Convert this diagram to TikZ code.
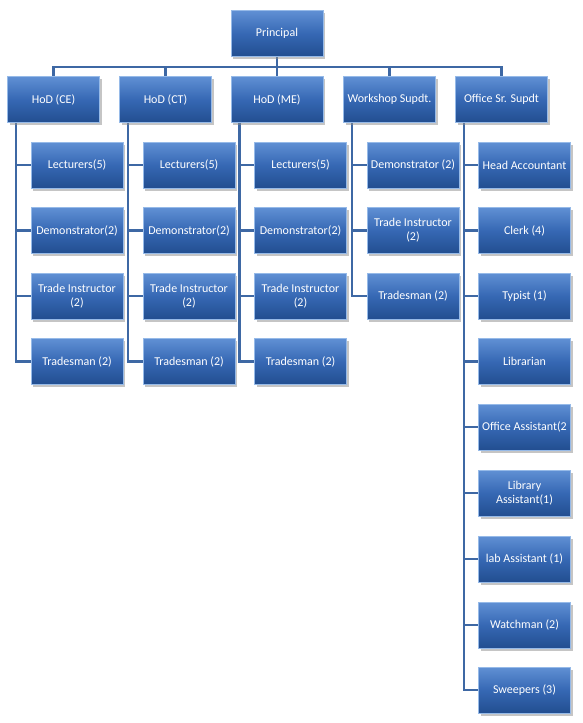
\documentclass[tikz,border=0pt]{standalone}
\usepackage{fontspec}
\setmainfont{Carlito}
\usetikzlibrary{shadows,backgrounds}
\definecolor{boxtop}{RGB}{96,144,212}
\definecolor{boxmid}{RGB}{54,104,180}
\definecolor{boxbot}{RGB}{34,78,144}
\definecolor{boxedge}{RGB}{150,186,232}
\definecolor{linecol}{RGB}{62,104,164}
\tikzset{
  orgbox/.style={rectangle, minimum width=92pt, minimum height=46pt, inner sep=0pt,
    align=center, text=white, font=\fontsize{12}{14}\selectfont,
    top color=boxtop, bottom color=boxbot, middle color=boxmid,
    draw=boxedge, line width=0.8pt,
    drop shadow={shadow xshift=2pt, shadow yshift=-2.5pt, fill=black!45, opacity=0.5}},
  conn/.style={draw=linecol, line width=2.5pt}
}
\begin{document}
\begin{tikzpicture}[x=1pt, y=-1pt]
\useasboundingbox (0,0) rectangle (583,723);
% top
\node[orgbox] (P) at (277,33.5) {Principal};
% level 1
\node[orgbox] (ce) at (53.5,99.5) {HoD (CE)};
\node[orgbox] (ct) at (165.5,99.5) {HoD (CT)};
\node[orgbox] (me) at (277,99.5) {HoD (ME)};
\node[orgbox] (ws) at (389.5,99.5) {Workshop Supdt.};
\node[orgbox] (os) at (501.5,99.5) {Office Sr. Supdt};
% CE children
\node[orgbox] (ce1) at (77,165) {Lecturers(5)};
\node[orgbox] (ce2) at (77,230.5) {Demonstrator(2)};
\node[orgbox] (ce3) at (77,296) {Trade Instructor\\(2)};
\node[orgbox] (ce4) at (77,361.5) {Tradesman (2)};
% CT children
\node[orgbox] (ct1) at (189,165) {Lecturers(5)};
\node[orgbox] (ct2) at (189,230.5) {Demonstrator(2)};
\node[orgbox] (ct3) at (189,296) {Trade Instructor\\(2)};
\node[orgbox] (ct4) at (189,361.5) {Tradesman (2)};
% ME children
\node[orgbox] (me1) at (300.5,165) {Lecturers(5)};
\node[orgbox] (me2) at (300.5,230.5) {Demonstrator(2)};
\node[orgbox] (me3) at (300.5,296) {Trade Instructor\\(2)};
\node[orgbox] (me4) at (300.5,361.5) {Tradesman (2)};
% WS children
\node[orgbox] (ws1) at (413,165) {Demonstrator (2)};
\node[orgbox] (ws2) at (413,230.5) {Trade Instructor\\(2)};
\node[orgbox] (ws3) at (413,296) {Tradesman (2)};
% OS children
\node[orgbox] (os1) at (524.5,165) {Head Accountant};
\node[orgbox] (os2) at (524.5,230.5) {Clerk (4)};
\node[orgbox] (os3) at (524.5,296) {Typist (1)};
\node[orgbox] (os4) at (524.5,361.5) {Librarian};
\node[orgbox] (os5) at (524.5,427) {Office Assistant(2};
\node[orgbox] (os6) at (524.5,493) {Library\\Assistant(1)};
\node[orgbox] (os7) at (524.5,559) {lab Assistant (1)};
\node[orgbox] (os8) at (524.5,625) {Watchman (2)};
\node[orgbox] (os9) at (524.5,690) {Sweepers (3)};
% connectors
\begin{scope}[on background layer]
\coordinate (bar) at (277,67);
\draw[conn] (P.south) -- (bar);
\foreach \h in {ce,ct,me,ws,os}{
  \draw[conn] (bar) -| (\h.north);
}
\foreach \h/\list in {ce/{ce1,ce2,ce3,ce4}, ct/{ct1,ct2,ct3,ct4}, me/{me1,me2,me3,me4},
                      ws/{ws1,ws2,ws3}, os/{os1,os2,os3,os4,os5,os6,os7,os8,os9}}{
  \foreach \c in \list {
    \draw[conn] ([xshift=9pt]\h.south west) |- (\c.west);
  }
}
\end{scope}
\end{tikzpicture}
\end{document}
